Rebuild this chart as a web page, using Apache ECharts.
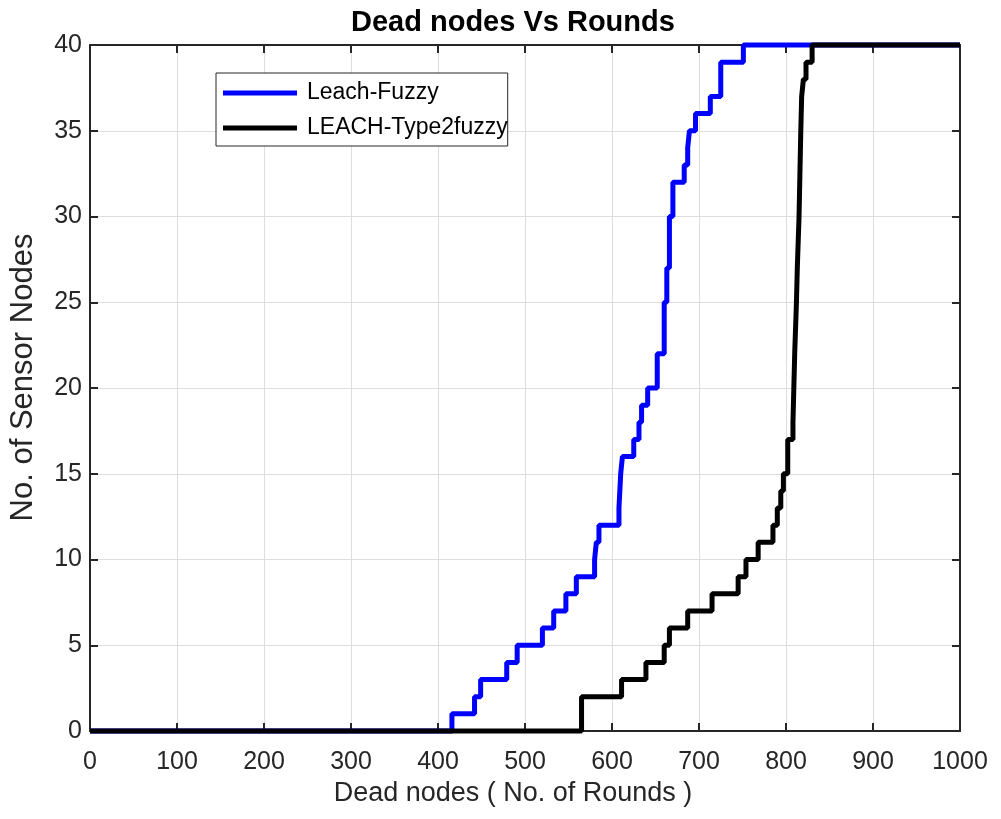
<!DOCTYPE html>
<html>
<head>
<meta charset="utf-8">
<title>Dead nodes Vs Rounds</title>
<script src="https://cdn.jsdelivr.net/npm/echarts@6/dist/echarts.min.js"></script>
<style>
    html, body { margin: 0; padding: 0; background: #fff; }
    #chart { width: 1001px; height: 819px; }
</style>
</head>
<body>
<div id="chart"></div>
<script>
// round at which the dead-node count steps up, and the count from then on
const fuzzyRounds = [0, 416, 442, 449, 479, 491, 520, 533, 547, 559, 580, 582, 585, 608, 610, 612, 625, 631, 634, 641, 652, 660, 663, 666, 670, 683, 687, 689, 696, 713, 725, 751, 1000];
const fuzzyDead   = [0, 1, 2, 3, 4, 5, 6, 7, 8, 9, 10, 11, 12, 13, 15, 16, 17, 18, 19, 20, 22, 25, 27, 30, 32, 33, 34, 35, 36, 37, 39, 40, 40];

const type2Rounds = [0, 565, 611, 639, 660, 666, 687, 715, 745, 754, 768, 785, 790, 794, 797, 802, 808, 809, 810, 812, 813, 815, 817, 818, 820, 823, 830, 1000];
const type2Dead   = [0, 2, 3, 4, 5, 6, 7, 8, 9, 10, 11, 12, 13, 14, 15, 17, 18, 20, 22, 25, 27, 30, 35, 37, 38, 39, 40, 40];

const seriesNames = ['Leach-Fuzzy', 'LEACH-Type2fuzzy'];

const font   = "'Liberation Sans', Arial, sans-serif";
const axisCl = '#262626';

const zip = (xs, ys) => xs.map((x, i) => [x, ys[i]]);

const chart = echarts.init(document.getElementById('chart'), null, { renderer: 'canvas' });

// top and right edges of the box, ticks only
const boxAxis = {
    axisLine : { show: true, onZero: false, lineStyle: { color: axisCl, width: 2 } },
    axisTick : { show: true, inside: true, length: 8, lineStyle: { color: axisCl, width: 2 } },
    axisLabel: { show: false },
    splitLine: { show: false }
};

const option = {
    backgroundColor: '#fff',
    animation: false,
    graphic: [
        {
            type: 'text',
            left: 512 - 161,
            top: 8,
            style: {
                text: 'Dead nodes Vs Rounds',
                fontFamily: font,
                fontSize: 29,
                fontWeight: 'bold',
                fill: '#000'
            }
        }
    ],
    legend: {
        orient: 'vertical',
        left: 216,
        top: 73,
        padding: [8, 0, 6, 7],
        itemGap: 11,
        itemWidth: 74,
        itemHeight: 5,
        icon: 'rect',
        borderColor: axisCl,
        borderWidth: 1,
        backgroundColor: '#fff',
        data: seriesNames,
        textStyle: { fontFamily: font, fontSize: 23, lineHeight: 24, color: '#000', padding: [0, 0, 0, 5] }
    },
    grid: { left: 90, right: 41, top: 45, bottom: 88, containLabel: false },
    xAxis: [
        {
            type: 'value',
            position: 'bottom',
            min: 0,
            max: 1000,
            interval: 100,
            name: 'Dead nodes ( No. of Rounds )',
            nameLocation: 'middle',
            nameGap: 48,
            nameTextStyle: { fontFamily: font, fontSize: 27, color: axisCl, padding: [0, 24, 0, 0] },
            axisLine : { show: true, onZero: false, lineStyle: { color: axisCl, width: 2 } },
            axisTick : { show: true, inside: true, length: 8, lineStyle: { color: axisCl, width: 2 } },
            axisLabel: { fontFamily: font, fontSize: 25, color: axisCl, margin: 19, formatter: v => String(v) },
            splitLine: { show: true, lineStyle: { color: '#dedede', width: 1 } }
        },
        Object.assign({ type: 'value', position: 'top', min: 0, max: 1000, interval: 100 }, boxAxis)
    ],
    yAxis: [
        {
            type: 'value',
            position: 'left',
            min: 0,
            max: 40,
            interval: 5,
            name: 'No. of Sensor Nodes',
            nameLocation: 'middle',
            nameGap: 51,
            nameTextStyle: { fontFamily: font, fontSize: 31, color: axisCl, padding: [0, 0, 0, 21] },
            axisLine : { show: true, onZero: false, lineStyle: { color: axisCl, width: 2 } },
            axisTick : { show: true, inside: true, length: 8, lineStyle: { color: axisCl, width: 2 } },
            axisLabel: { fontFamily: font, fontSize: 25, color: axisCl, margin: 8 },
            splitLine: { show: true, lineStyle: { color: '#dedede', width: 1 } }
        },
        Object.assign({ type: 'value', position: 'right', min: 0, max: 40, interval: 5 }, boxAxis)
    ],
    series: [
        {
            name: seriesNames[0],
            type: 'line',
            step: 'end',
            symbol: 'none',
            clip: false,
            color: '#0000ff',
            lineStyle: { color: '#0000ff', width: 5 },
            data: zip(fuzzyRounds, fuzzyDead)
        },
        {
            name: seriesNames[1],
            type: 'line',
            step: 'end',
            symbol: 'none',
            clip: false,
            color: '#000000',
            lineStyle: { color: '#000000', width: 5 },
            data: zip(type2Rounds, type2Dead)
        }
    ]
};

chart.setOption(option);
</script>
</body>
</html>
